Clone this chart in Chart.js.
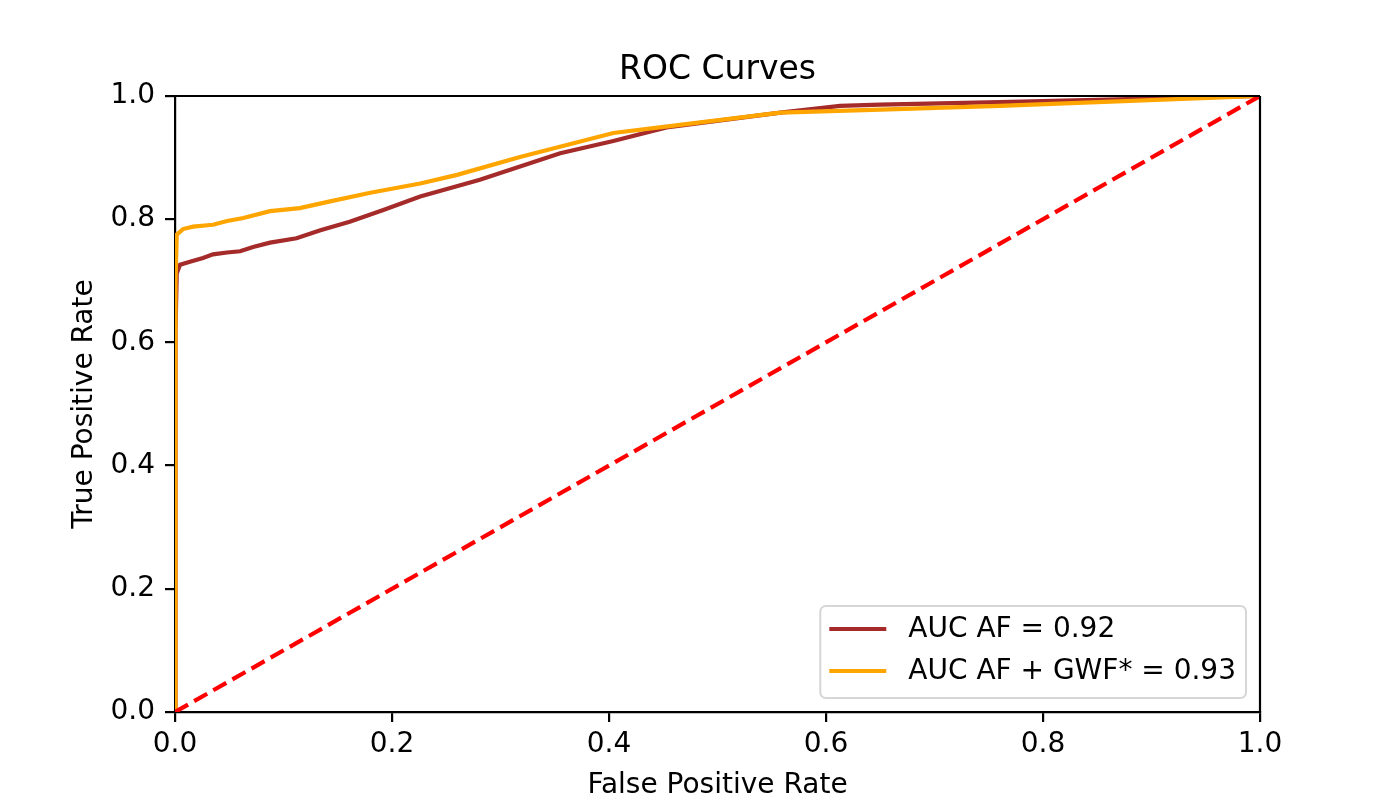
<!DOCTYPE html>
<html>
<head>
<meta charset="utf-8">
<script src="https://cdn.jsdelivr.net/npm/chart.js@4"></script>
<style>
html,body{margin:0;padding:0;background:#fff;}
#wrap{width:1400px;height:800px;}
</style>
</head>
<body>
<div id="wrap"><canvas id="c" width="1400" height="800"></canvas></div>
<script>
const titleText = "ROC Curves";
const xTitle = "False Positive Rate";
const yTitle = "True Positive Rate";
const xTicks = [0, 0.2, 0.4, 0.6, 0.8, 1.0];
const yTicks = [0, 0.2, 0.4, 0.6, 0.8, 1.0];

const labelAF = "AUC AF = 0.92";
const fprAF = [0, 0.0005, 0.0016, 0.0046, 0.0138, 0.0258, 0.035, 0.048, 0.060, 0.072, 0.0876, 0.112, 0.134, 0.161, 0.192, 0.226, 0.281, 0.355, 0.404, 0.453, 0.558, 0.613, 0.650, 0.76, 1.0];
const tprAF = [0, 0.62, 0.712, 0.726, 0.731, 0.737, 0.743, 0.746, 0.748, 0.755, 0.762, 0.769, 0.782, 0.796, 0.815, 0.837, 0.864, 0.907, 0.927, 0.949, 0.973, 0.984, 0.986, 0.990, 1.0];

const labelGWF = "AUC AF + GWF* = 0.93";
const fprGWF = [0, 0.0005, 0.0016, 0.0074, 0.0166, 0.035, 0.048, 0.063, 0.0876, 0.115, 0.143, 0.180, 0.226, 0.260, 0.318, 0.404, 0.456, 0.558, 0.650, 0.76, 1.0];
const tprGWF = [0, 0.70, 0.775, 0.784, 0.788, 0.791, 0.797, 0.802, 0.813, 0.818, 0.829, 0.843, 0.858, 0.872, 0.901, 0.940, 0.951, 0.973, 0.978, 0.984, 1.0];

const diagX = [0, 1];
const diagY = [0, 1];

const FONT = "'DejaVu Sans', sans-serif";

function pts(xs, ys){ return xs.map((x,i)=>({x:x, y:ys[i]})); }

const framePlugin = {
  id: 'frame',
  afterDatasetsDraw(chart){
    const {ctx, chartArea:a} = chart;
    ctx.save();
    ctx.strokeStyle = '#000';
    ctx.lineWidth = 2.2;
    ctx.beginPath();
    ctx.moveTo(a.left, a.top); ctx.lineTo(a.right, a.top);
    ctx.moveTo(a.right, a.top); ctx.lineTo(a.right, a.bottom);
    ctx.stroke();
    ctx.restore();
  },
  afterDraw(chart){
    const {ctx, chartArea:a} = chart;
    ctx.save();
    // title centred over the plot area
    ctx.font = "33px " + FONT;
    ctx.fillStyle = '#000';
    ctx.textAlign = 'center';
    ctx.textBaseline = 'alphabetic';
    ctx.fillText(titleText, (a.left + a.right) / 2, a.top - 17);

    const ds = chart.data.datasets.filter(d => d.showInLegend);
    ctx.font = "28px " + FONT;
    let maxW = 0;
    ds.forEach(d => { maxW = Math.max(maxW, ctx.measureText(d.label).width); });
    const boxRight = a.right - 14;
    const boxBottom = a.bottom - 14;
    const boxTop = boxBottom - 92;
    const textX = boxRight - 10 - maxW;
    const lineX1 = textX - 22;
    const lineX0 = lineX1 - 57;
    const boxLeft = lineX0 - 9;
    const r = 5.5;
    ctx.beginPath();
    ctx.moveTo(boxLeft + r, boxTop);
    ctx.arcTo(boxRight, boxTop, boxRight, boxBottom, r);
    ctx.arcTo(boxRight, boxBottom, boxLeft, boxBottom, r);
    ctx.arcTo(boxLeft, boxBottom, boxLeft, boxTop, r);
    ctx.arcTo(boxLeft, boxTop, boxRight, boxTop, r);
    ctx.closePath();
    ctx.fillStyle = 'rgba(255,255,255,0.8)';
    ctx.fill();
    ctx.strokeStyle = '#d6d6d6';
    ctx.lineWidth = 2;
    ctx.stroke();
    const rows = [boxBottom - 69, boxBottom - 27];
    ds.forEach((d, i) => {
      const y = rows[i];
      ctx.strokeStyle = d.borderColor;
      ctx.lineWidth = 4.2;
      ctx.beginPath();
      ctx.moveTo(lineX0, y); ctx.lineTo(lineX1, y);
      ctx.stroke();
      ctx.fillStyle = '#000';
      ctx.textBaseline = 'middle';
      ctx.textAlign = 'left';
      ctx.fillText(d.label, textX, y + 1);
    });
    ctx.restore();
  }
};

new Chart(document.getElementById('c'), {
  type: 'line',
  data: {
    datasets: [
      { label: labelAF, data: pts(fprAF, tprAF), borderColor: '#a52a2a', borderWidth: 4.2, pointRadius: 0, tension: 0, fill: false, order: 3, showInLegend: true },
      { label: labelGWF, data: pts(fprGWF, tprGWF), borderColor: '#ffa500', borderWidth: 4.2, pointRadius: 0, tension: 0, fill: false, order: 2, showInLegend: true },
      { label: 'diagonal', data: pts(diagX, diagY), borderColor: '#ff0000', borderWidth: 4.2, borderDash: [15, 7], pointRadius: 0, tension: 0, fill: false, order: 1, showInLegend: false }
    ]
  },
  options: {
    responsive: false,
    animation: false,
    devicePixelRatio: 1,
    layout: { padding: { left: 0, right: 140, top: 96, bottom: 0 } },
    plugins: {
      legend: { display: false },
      tooltip: { enabled: false },
      title: { display: false }
    },
    scales: {
      x: {
        type: 'linear', min: 0, max: 1,
        afterFit(s){ s.height = 88; },
        afterBuildTicks(s){ s.ticks = xTicks.map(v => ({value: v})); },
        ticks: { color: '#000', font: { family: FONT, size: 28 }, padding: 6, maxRotation: 0, autoSkip: false,
          callback: v => Number(v).toFixed(1) },
        grid: { drawOnChartArea: false, drawTicks: true, tickLength: 10, color: '#000', lineWidth: 2.2 },
        border: { display: true, color: '#000', width: 2.2 },
        title: { display: true, text: xTitle, color: '#000', font: { family: FONT, size: 28, lineHeight: 1.0 }, padding: { top: 1, bottom: 0 } }
      },
      y: {
        type: 'linear', min: 0, max: 1,
        afterFit(s){ s.width = 175; },
        afterBuildTicks(s){ s.ticks = yTicks.map(v => ({value: v})); },
        ticks: { color: '#000', font: { family: FONT, size: 28 }, padding: 10, autoSkip: false,
          callback: v => Number(v).toFixed(1) },
        grid: { drawOnChartArea: false, drawTicks: true, tickLength: 10, color: '#000', lineWidth: 2.2 },
        border: { display: true, color: '#000', width: 2.2 },
        title: { display: true, text: yTitle, color: '#000', font: { family: FONT, size: 28 }, padding: { top: 68, bottom: 0 } }
      }
    }
  },
  plugins: [framePlugin]
});
</script>
</body>
</html>
